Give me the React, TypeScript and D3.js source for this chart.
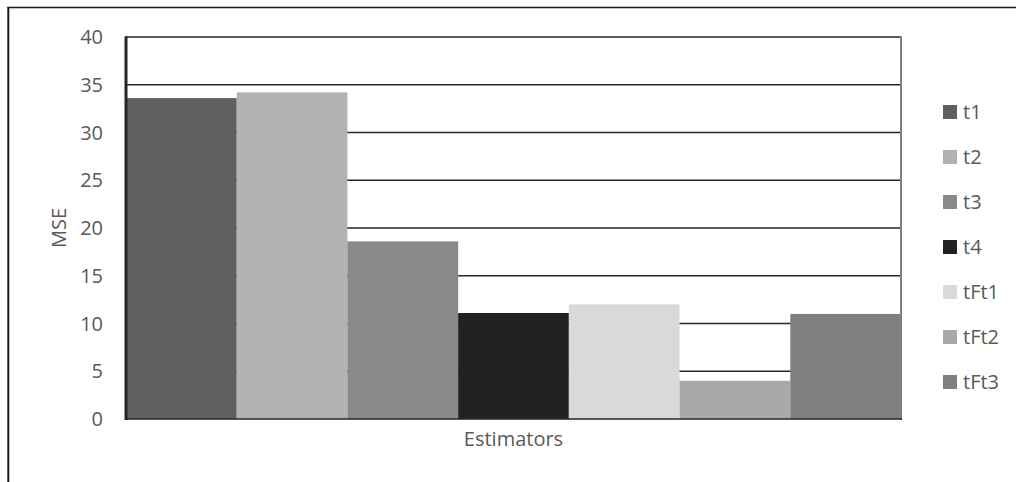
import React from "react";
import * as d3 from "d3";

const categories = ["t1", "t2", "t3", "t4", "tFt1", "tFt2", "tFt3"];
const values = [33.6, 34.2, 18.6, 11.1, 12.0, 4.0, 11.0];
const colors = ["#5f5f5f", "#b2b2b2", "#898989", "#222222", "#d9d9d9", "#a9a9a9", "#7f7f7f"];
const yTicks = [0, 5, 10, 15, 20, 25, 30, 35, 40];

export default function App() {
  const W = 1016, H = 482;
  const left = 126, right = 901, top = 37, bottom = 419;
  const x = d3.scaleBand<string>().domain(categories).range([left, right]).padding(0);
  const y = d3.scaleLinear().domain([0, 40]).range([bottom, top]);
  const font = "'Open Sans', 'Noto Sans', sans-serif";
  const textColor = "#595959";
  return (
    <svg width={W} height={H} style={{ position: "absolute", left: 0, top: 0, background: "#fff" }} fontFamily={font}>
      <rect x={0} y={0} width={W} height={H} fill="#fff" />
      {/* outer frame */}
      <line x1={8.3} x2={8.3} y1={7} y2={H} stroke="#1a1a1a" strokeWidth={2} />
      <line x1={7.3} x2={W} y1={7.5} y2={7.5} stroke="#1a1a1a" strokeWidth={1.6} />
      {/* gridlines */}
      {yTicks.filter(t => t > 0).map(t => (
        <line key={t} x1={left} x2={right} y1={y(t)} y2={y(t)} stroke="#262626" strokeWidth={1.6} />
      ))}
      {/* bars */}
      {categories.map((c, i) => (
        <rect key={c} x={x(c)!} y={y(values[i])} width={x.bandwidth()} height={y(0) - y(values[i])} fill={colors[i]} />
      ))}
      {/* axes */}
      <line x1={right} x2={right} y1={top - 0.8} y2={bottom + 1} stroke="#808080" strokeWidth={2} />
      <line x1={left} x2={right + 1} y1={bottom} y2={bottom} stroke="#262626" strokeWidth={1.6} />
      <line x1={left} x2={left} y1={top - 0.8} y2={bottom + 1} stroke="#262626" strokeWidth={3} />
      {/* y tick labels */}
      {yTicks.map(t => (
        <text key={t} x={103} y={y(t)} dy="0.35em" textAnchor="end" fontSize={20} fill={textColor}>{t}</text>
      ))}
      {/* axis titles */}
      <text transform={`translate(66,${(top + bottom) / 2}) rotate(-90)`} textAnchor="middle" fontSize={20} fill={textColor}>MSE</text>
      <text x={(left + right) / 2} y={446} textAnchor="middle" fontSize={20} fill={textColor}>Estimators</text>
      {/* legend */}
      {categories.map((c, i) => (
        <g key={c} transform={`translate(943,${105 + i * 45})`}>
          <rect x={0} y={0} width={14} height={14} fill={colors[i]} />
          <text x={20} y={7} dy="0.35em" fontSize={20} fill={textColor}>{c}</text>
        </g>
      ))}
    </svg>
  );
}
